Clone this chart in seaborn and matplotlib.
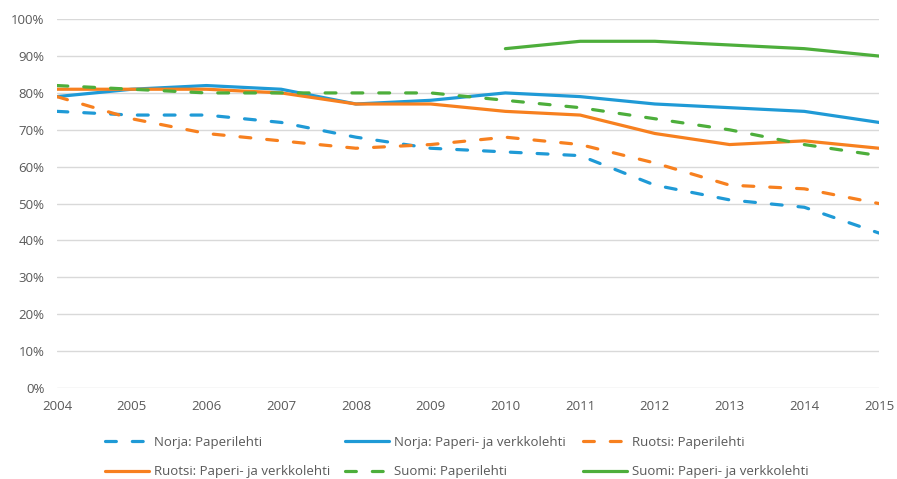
#!/usr/bin/env python3
"""
Newspaper reach in Norway, Sweden and Finland 2004-2015
"""

import numpy as np
import pandas as pd
import matplotlib
matplotlib.use("Agg")
import matplotlib.pyplot as plt
import seaborn as sns

years = list(range(2004, 2016))

norja_paperi = [75, 74, 74, 72, 68, 65, 64, 63, 55, 51, 49, 42]
norja_paperi_verkko = [79, 81, 82, 81, 77, 78, 80, 79, 77, 76, 75, 72]
ruotsi_paperi = [79, 73, 69, 67, 65, 66, 68, 66, 61, 55, 54, 50]
ruotsi_paperi_verkko = [81, 81, 81, 80, 77, 77, 75, 74, 69, 66, 67, 65]
suomi_paperi = [82, 81, 80, 80, 80, 80, 78, 76, 73, 70, 66, 63]
suomi_paperi_verkko = [np.nan] * 6 + [92, 94, 94, 93, 92, 90]

series_names = [
    "Norja: Paperilehti",
    "Norja: Paperi- ja verkkolehti",
    "Ruotsi: Paperilehti",
    "Ruotsi: Paperi- ja verkkolehti",
    "Suomi: Paperilehti",
    "Suomi: Paperi- ja verkkolehti",
]
series_values = [
    norja_paperi, norja_paperi_verkko,
    ruotsi_paperi, ruotsi_paperi_verkko,
    suomi_paperi, suomi_paperi_verkko,
]

BLUE = "#1f9ad6"
ORANGE = "#f7801f"
GREEN = "#4dae3b"
TEXT = "#595959"
colors = [BLUE, BLUE, ORANGE, ORANGE, GREEN, GREEN]
dashed = [True, False, True, False, True, False]

sns.set_style("white")
plt.rcParams["font.family"] = ["Open Sans", "DejaVu Sans"]

fig = plt.figure(figsize=(8.97, 4.79), dpi=100)
ax = fig.add_axes([0.0635, 0.19, 0.9165, 0.77])

for name, vals, col, dsh in zip(series_names, series_values, colors, dashed):
    df = pd.DataFrame({"year": years, "value": np.array(vals, dtype=float) / 100})
    sns.lineplot(data=df, x="year", y="value", ax=ax, color=col,
                 linewidth=2.3, label=name)
    l = ax.get_lines()[-1]
    if dsh:
        l.set_dashes([3.4, 5.0])
    l.set_dash_capstyle("round")

ax.set_xlim(2004, 2015)
ax.set_ylim(0, 1.0)
ax.set_xticks(years)
ax.set_yticks(np.arange(0, 1.01, 0.1))
ax.set_yticklabels([f"{int(round(v * 100))}%" for v in np.arange(0, 1.01, 0.1)])
ax.set_xlabel("")
ax.set_ylabel("")
ax.grid(axis="y", color="#d9d9d9", linewidth=1)
ax.grid(axis="x", visible=False)
for s in ax.spines.values():
    s.set_visible(False)
ax.tick_params(axis="both", length=0, labelsize=9.5, labelcolor=TEXT)
ax.tick_params(axis="x", pad=9)
ax.tick_params(axis="y", pad=9)

# legend: 3 columns at a fixed pitch, filled row by row
ax.get_legend().remove()
handles, labels = ax.get_legend_handles_labels()
col_x = [105, 345, 583]
for c, x in enumerate(col_x):
    idx = [c, c + 3]
    leg = fig.legend([handles[i] for i in idx], [labels[i] for i in idx],
                     loc="upper left", bbox_to_anchor=(x / 897, 1 - 436 / 479),
                     frameon=False, fontsize=9.5, handlelength=3.3,
                     handletextpad=0.45, labelspacing=1.25,
                     borderpad=0, borderaxespad=0)
    for t in leg.get_texts():
        t.set_color(TEXT)

fig.savefig("out.png", dpi=100)
